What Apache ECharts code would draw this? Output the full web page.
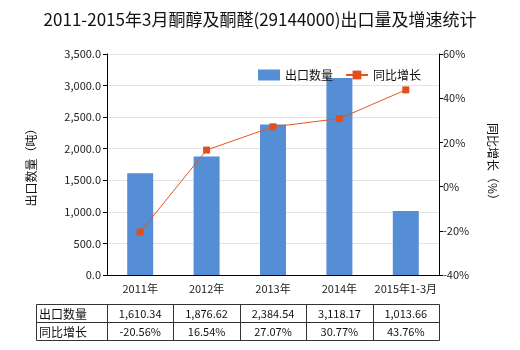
<!DOCTYPE html>
<html><head><meta charset="utf-8">
<script src="https://cdn.jsdelivr.net/npm/echarts@6/dist/echarts.min.js"></script>
<style>html,body{margin:0;padding:0;background:#fff}#c{width:520px;height:350px}</style>
</head><body><div id="c"></div>
<script>
var categories = ['2011年','2012年','2013年','2014年','2015年1-3月'];
var exportQty = [1610.34, 1876.62, 2384.54, 3118.17, 1013.66];
var growth = [-20.56, 16.54, 27.07, 30.77, 43.76];
var qtyLabels = ['1,610.34','1,876.62','2,384.54','3,118.17','1,013.66'];
var growthLabels = ['-20.56%','16.54%','27.07%','30.77%','43.76%'];
var rowNames = ['出口数量','同比增长'];

var FONT = '"Noto Sans CJK SC","Noto Sans",sans-serif';
var chart = echarts.init(document.getElementById('c'));
var option = {
  animation:false,
  textStyle:{fontFamily:FONT},
  title:{text:'2011-2015年3月酮醇及酮醛(29144000)出口量及增速统计',left:'center',top:6,
    textStyle:{fontSize:17,fontWeight:'normal',color:'#111',fontFamily:FONT}},
  legend:{top:64,left:253,itemWidth:22,itemHeight:11,itemGap:12,
    textStyle:{fontSize:12,color:'#111',fontFamily:FONT},
    data:[{name:'出口数量',icon:'rect'},{name:'同比增长'}]},
  grid:{left:107,right:81,top:54,bottom:75},
  xAxis:{type:'category',data:categories,
    axisLine:{lineStyle:{color:'#000'}},
    axisTick:{alignWithLabel:true,length:4,lineStyle:{color:'#000'}},
    axisLabel:{interval:0,fontSize:11,color:'#222',margin:8}},
  yAxis:[{type:'value',min:0,max:3500,interval:500,
    name:'出口数量（吨）',nameLocation:'middle',nameGap:70,nameRotate:90,
    nameTextStyle:{fontSize:12,color:'#111'},
    axisLine:{show:true,lineStyle:{color:'#000'}},
    axisTick:{show:true,length:4,lineStyle:{color:'#000'}},
    axisLabel:{fontSize:11,color:'#222',margin:6,formatter:function(v){return v.toLocaleString('en-US',{minimumFractionDigits:1,maximumFractionDigits:1});}},
    splitLine:{lineStyle:{color:'#e3e3e3'}}},
   {type:'value',min:-40,max:60,interval:20,
    name:'同比增长（%）',nameLocation:'middle',nameGap:48,nameRotate:-90,
    nameTextStyle:{fontSize:12,color:'#111'},
    axisLine:{show:true,lineStyle:{color:'#000'}},
    axisTick:{show:true,length:4,lineStyle:{color:'#000'}},
    axisLabel:{fontSize:11,color:'#222',margin:4,formatter:'{value}%'},
    splitLine:{show:false}}],
  series:[{name:'出口数量',type:'bar',data:exportQty,barWidth:26,itemStyle:{color:'#558ed5'}},
    {name:'同比增长',type:'line',yAxisIndex:1,data:growth,symbol:'rect',symbolSize:7,
     lineStyle:{color:'#e8541e',width:1},itemStyle:{color:'#e0501c'}}]
};
chart.setOption(option);

// table below chart
var g = [];
var x0 = 36;
var edges = [];
for (var i=0;i<categories.length;i++){
  var c = chart.convertToPixel({xAxisIndex:0}, categories[i]);
  edges.push(c);
}
var band = edges.length>1 ? edges[1]-edges[0] : 66;
var gl = edges[0]-band/2, gr = edges[edges.length-1]+band/2;
var yTop = 304, rowH = 18;
var rows = [qtyLabels, growthLabels];
var lineStyle = {stroke:'#333',lineWidth:1};
g.push({type:'rect',shape:{x:x0+0.5,y:yTop+0.5,width:gr-x0,height:rowH*2},style:{fill:'none',stroke:'#333',lineWidth:1}});
g.push({type:'line',shape:{x1:x0,y1:yTop+rowH+0.5,x2:gr,y2:yTop+rowH+0.5},style:lineStyle});
g.push({type:'line',shape:{x1:gl+0.5,y1:yTop,x2:gl+0.5,y2:yTop+rowH*2},style:lineStyle});
for (var i=0;i<edges.length-1;i++){
  var xe = Math.round(edges[i]+band/2)+0.5;
  g.push({type:'line',shape:{x1:xe,y1:yTop,x2:xe,y2:yTop+rowH*2},style:lineStyle});
}
for (var r=0;r<rows.length;r++){
  var cy = yTop+rowH*r+rowH/2+1;
  g.push({type:'text',style:{text:rowNames[r],x:x0+3,y:cy,textVerticalAlign:'middle',verticalAlign:'middle',font:'12px '+FONT,fill:'#111'}});
  for (var i=0;i<edges.length;i++){
    g.push({type:'text',style:{text:rows[r][i],x:edges[i],y:cy,textAlign:'center',align:'center',textVerticalAlign:'middle',verticalAlign:'middle',font:'11px '+FONT,fill:'#111'}});
  }
}
chart.setOption({graphic:g});
</script></body></html>
